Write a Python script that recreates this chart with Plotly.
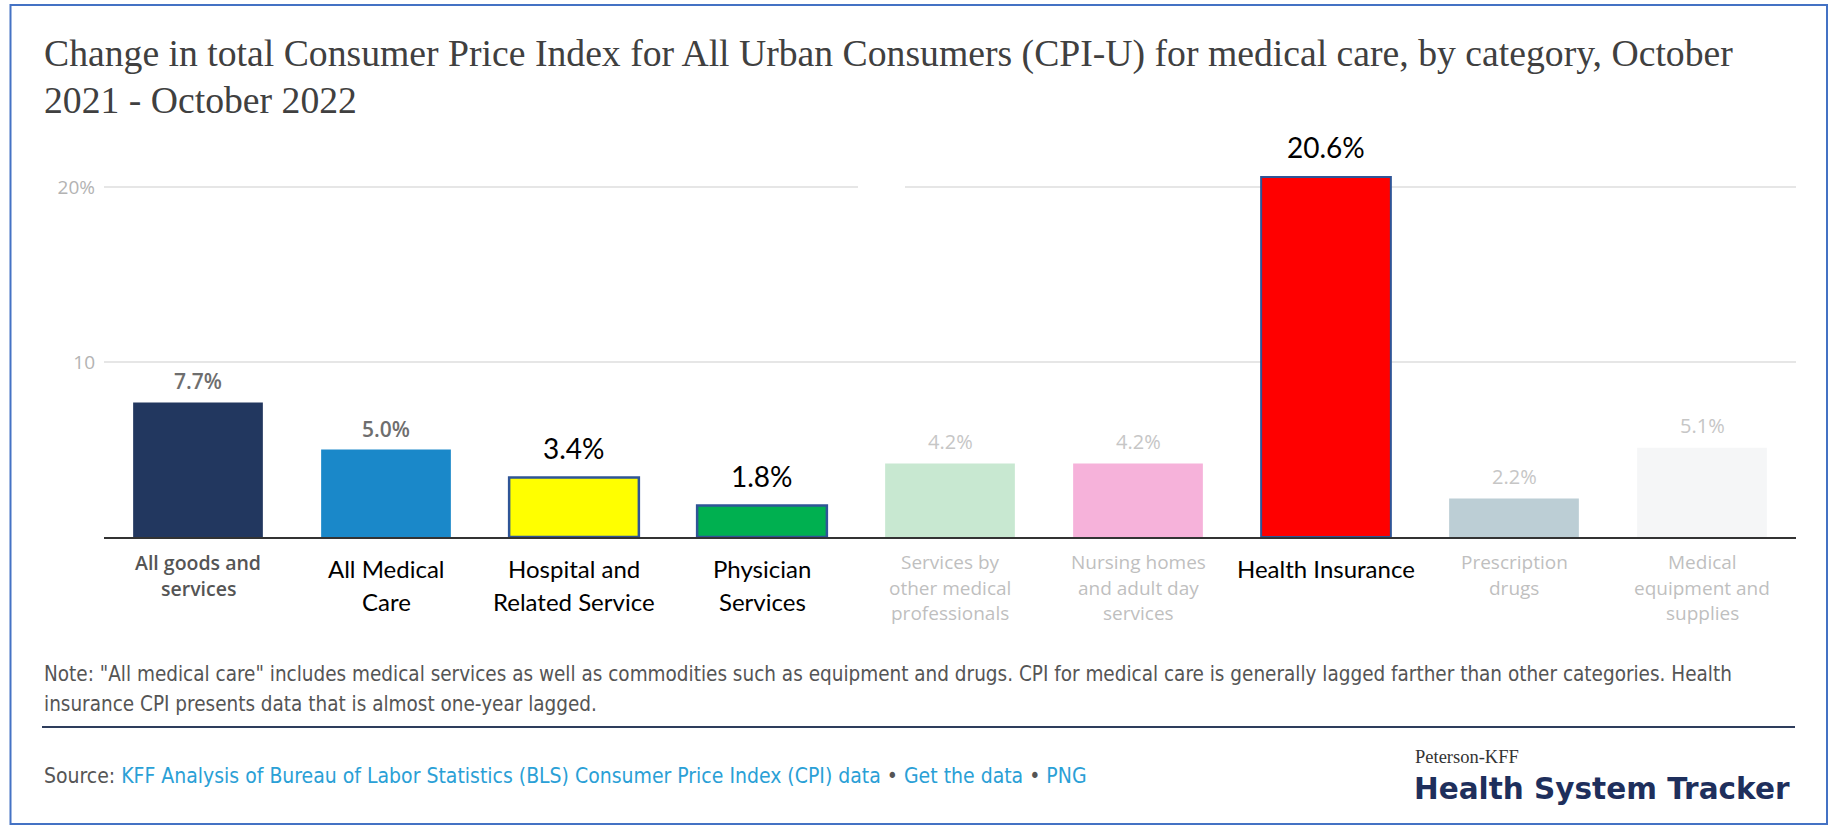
import plotly.graph_objects as go

# ---------------- data ----------------
categories = [
    "All goods and services",
    "All Medical Care",
    "Hospital and Related Service",
    "Physician Services",
    "Services by other medical professionals",
    "Nursing homes and adult day services",
    "Health Insurance",
    "Prescription drugs",
    "Medical equipment and supplies",
]
tick_lines = [
    ["All goods and", "services"],
    ["All Medical", "Care"],
    ["Hospital and", "Related Service"],
    ["Physician", "Services"],
    ["Services by", "other medical", "professionals"],
    ["Nursing homes", "and adult day", "services"],
    ["Health Insurance"],
    ["Prescription", "drugs"],
    ["Medical", "equipment and", "supplies"],
]
values = [7.7, 5.0, 3.4, 1.8, 4.2, 4.2, 20.6, 2.2, 5.1]
value_labels = ["7.7%", "5.0%", "3.4%", "1.8%", "4.2%", "4.2%", "20.6%", "2.2%", "5.1%"]
y_tick_vals = [10, 20]
y_tick_text = ["10", "20%"]

title_lines = [
    "Change in total Consumer Price Index for All Urban Consumers (CPI-U) for medical care, by category, October",
    "2021 - October 2022",
]
note_lines = [
    'Note: "All medical care" includes medical services as well as commodities such as equipment and drugs. '
    'CPI for medical care is generally lagged farther than other categories. Health',
    "insurance CPI presents data that is almost one-year lagged.",
]

# ---------------- styles ----------------
bar_colors = ["#22375F", "#1A88C9", "#FFFF00", "#00B050", "#C8E8D1",
              "#F6B2DA", "#FF0000", "#BCCED5", "#F5F6F7"]
edge_colors = ["rgba(0,0,0,0)", "rgba(0,0,0,0)", "#2F5597", "#2F5597", "rgba(0,0,0,0)",
               "rgba(0,0,0,0)", "#2F5597", "rgba(0,0,0,0)", "rgba(0,0,0,0)"]
edge_widths = [0, 0, 2.5, 2.5, 0, 0, 2, 0, 0]
value_kind = ["bold", "bold", "hl", "hl", "fade", "fade", "hl", "fade", "fade"]
cat_kind = ["bold", "hl", "hl", "hl", "fade", "fade", "hl", "fade", "fade"]

W, H = 1831, 828
L, R, T, B = 104, 35, 170, 291
PW = W - L - R
PH = H - T - B
Y0 = H - B  # pixel y of zero


def pxx(px):
    return (px - L) / PW


def pxy(py):
    return (Y0 - py) / PH


fig = go.Figure()
fig.add_trace(go.Bar(
    x=categories,
    y=values,
    marker=dict(color=bar_colors, line=dict(color=edge_colors, width=edge_widths)),
    hoverinfo="x+y",
    showlegend=False,
))

annotations = []

# value labels
val_style = {
    "bold": dict(font=dict(family="Open Sans", size=21, color="#6E6E6E", weight=600), shift=21),
    "hl": dict(font=dict(family="Lato", size=28, color="#000000"), shift=30),
    "fade": dict(font=dict(family="Open Sans", size=20, color="#C6C6C6"), shift=22),
}
for c, v, t, k in zip(categories, values, value_labels, value_kind):
    s = val_style[k]
    annotations.append(dict(x=c, y=v, xref="x", yref="y", text=t, showarrow=False,
                            yanchor="middle", xanchor="center", yshift=s["shift"],
                            font=s["font"]))

# category labels (one annotation per line)
cat_style = {
    "bold": dict(font=dict(family="Open Sans", size=19.5, color="#555555", weight=600), first=25, step=26),
    "hl": dict(font=dict(family="Lato", size=24, color="#000000"), first=31, step=33),
    "fade": dict(font=dict(family="Open Sans", size=19, color="#BFBFBF"), first=25, step=25.5),
}
for c, lines, k in zip(categories, tick_lines, cat_kind):
    s = cat_style[k]
    for i, ln in enumerate(lines):
        annotations.append(dict(x=c, y=0, xref="x", yref="y", text=ln, showarrow=False,
                                yanchor="middle", xanchor="center",
                                yshift=-(s["first"] + i * s["step"]), font=s["font"]))

# title
for ln, py in zip(title_lines, [53, 100]):
    annotations.append(dict(x=pxx(42), y=pxy(py), xref="paper", yref="paper", text=ln,
                            showarrow=False, xanchor="left", yanchor="middle",
                            font=dict(family="Liberation Serif", size=37.7, color="#404040")))

note_font = dict(family="DejaVu Sans Condensed, Liberation Sans", size=20.5, color="#555555")
source_font = dict(family="DejaVu Sans Condensed, Liberation Sans", size=21, color="#555555")

# note
for ln, py in zip(note_lines, [674, 704]):
    annotations.append(dict(x=pxx(42), y=pxy(py), xref="paper", yref="paper", text=ln,
                            showarrow=False, xanchor="left", yanchor="middle", font=note_font))

link = "#2AA0D6"
source_text = ('Source: <span style="color:%s">KFF Analysis of Bureau of Labor Statistics (BLS) '
               'Consumer Price Index (CPI) data</span> • <span style="color:%s">Get the data</span> • '
               '<span style="color:%s">PNG</span>') % (link, link, link)
annotations.append(dict(x=pxx(42), y=pxy(776), xref="paper", yref="paper", text=source_text,
                        showarrow=False, xanchor="left", yanchor="middle", font=source_font))

# logo
annotations.append(dict(x=pxx(1413), y=pxy(757), xref="paper", yref="paper", text="Peterson-KFF",
                        showarrow=False, xanchor="left", yanchor="middle",
                        font=dict(family="Liberation Serif", size=18.5, color="#333333")))
annotations.append(dict(x=pxx(1412), y=pxy(789), xref="paper", yref="paper",
                        text="<b>Health System Tracker</b>",
                        showarrow=False, xanchor="left", yanchor="middle",
                        font=dict(family="DejaVu Sans", size=29.5, color="#1E2F5C")))

shapes = [
    # rule above source
    dict(type="line", xref="paper", yref="paper", x0=pxx(42), x1=pxx(1795), y0=pxy(727), y1=pxy(727),
         line=dict(color="#2E3D5C", width=2)),
    # blue frame
    dict(type="rect", xref="paper", yref="paper", x0=pxx(10.5), x1=pxx(1827), y0=pxy(5), y1=pxy(824),
         line=dict(color="#4472C4", width=2), fillcolor="rgba(0,0,0,0)"),
    # gap in top gridline
    dict(type="rect", xref="paper", yref="paper", x0=pxx(858), x1=pxx(905), y0=pxy(194), y1=pxy(181),
         line=dict(width=0), fillcolor="white"),
]

fig.update_layout(
    width=W, height=H,
    margin=dict(l=L, r=R, t=T, b=B, pad=0),
    paper_bgcolor="white", plot_bgcolor="white",
    bargap=0.31,
    xaxis=dict(type="category", showticklabels=False, showline=True, linecolor="#333333",
               linewidth=2, ticks="", showgrid=False, zeroline=False, range=[-0.5, 8.5],
               fixedrange=True),
    yaxis=dict(range=[0, 21], tickvals=y_tick_vals, ticktext=y_tick_text, showgrid=True,
               gridcolor="#E6E6E6", gridwidth=1.5, zeroline=False, showline=False, ticks="",
               ticklabelstandoff=8,
               tickfont=dict(family="Open Sans", size=19, color="#B3B3B3"), fixedrange=True),
    annotations=annotations,
    shapes=shapes,
)

fig.write_html(
    "out.html",
    config={"displayModeBar": False},
    post_script="document.body.style.margin='0';document.body.style.overflow='hidden';",
)
